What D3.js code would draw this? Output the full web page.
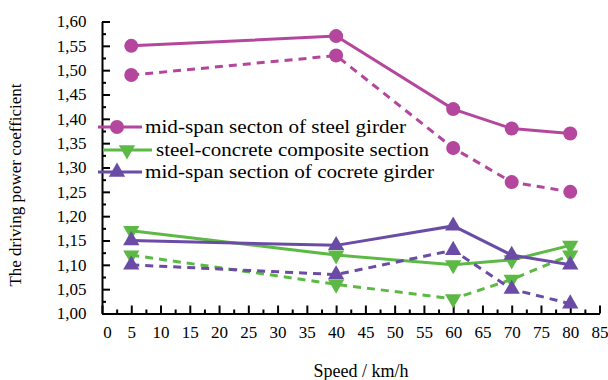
<!DOCTYPE html>
<html>
<head>
<meta charset="utf-8">
<script src="https://cdn.jsdelivr.net/npm/d3@7"></script>
<style>
  body { margin: 0; background: #fff; }
  svg text { font-family: "Liberation Serif", "Times New Roman", Times, "DejaVu Serif", serif; }
</style>
</head>
<body>
<script>
// data
var speeds = [5, 40, 60, 70, 80];
var steelSolid = [1.55, 1.57, 1.42, 1.38, 1.37];
var steelDash = [1.49, 1.53, 1.34, 1.27, 1.25];
var compSolid = [1.17, 1.12, 1.10, 1.11, 1.14];
var compDash = [1.12, 1.06, 1.03, 1.07, 1.12];
var concSolid = [1.15, 1.14, 1.18, 1.12, 1.10];
var concDash = [1.10, 1.08, 1.13, 1.05, 1.02];
var legendNames = ["mid-span secton of steel girder", "steel-concrete composite section", "mid-span section of cocrete girder"];
var xTicks = d3.range(0, 86, 5);
var yTicks = d3.range(1.00, 1.6001, 0.05);

var magenta = '#b4479d', green = '#5db946', purple = '#6a4ca7';

var svg = d3.select("body").append("svg")
    .attr("width", 608)
    .attr("height", 380);

var x = d3.scaleLinear().domain([0, 85]).range([102, 599.5]);
var y = d3.scaleLinear().domain([1.00, 1.60]).range([313.5, 21.5]);

// minor ticks
svg.append('g').attr('transform', 'translate(0,313.5)')
    .call(d3.axisBottom(x).tickValues(d3.range(2.5, 85, 5)).tickSize(-4).tickFormat(''))
    .call(function(g) { g.select('.domain').remove(); });
svg.append('g').attr('transform', 'translate(102,0)')
    .call(d3.axisLeft(y).tickValues(d3.range(1.025, 1.6, 0.05)).tickSize(-4).tickFormat(''))
    .call(function(g) { g.select('.domain').remove(); });

var xAxis = svg.append('g').attr('transform', 'translate(0,313.5)')
    .call(d3.axisBottom(x).tickValues(xTicks).tickSize(-8).tickSizeOuter(0).tickPadding(12.5)
        .tickFormat(d3.format('d')));
xAxis.selectAll('text').attr('font-size', 17)
    .attr('dx', function(d) { return d === 0 ? 5 : 0; });

var yAxis = svg.append('g').attr('transform', 'translate(102,0)')
    .call(d3.axisLeft(y).tickValues(yTicks).tickSize(-8).tickSizeOuter(0).tickPadding(15.5)
        .tickFormat(function(d) { return d.toFixed(2).replace('.', ','); }));
yAxis.selectAll('text').attr('font-size', 17);
svg.selectAll('.domain').attr('stroke-width', 2);
svg.selectAll('.tick line').attr('stroke-width', 2);

var line = d3.line()
    .x(function(d, i) { return x(speeds[i]); })
    .y(function(d) { return y(d); });

var series = [
    {vals: steelSolid, color: magenta, dash: null, mark: 'circle'},
    {vals: steelDash, color: magenta, dash: '8,6', mark: 'circle'},
    {vals: compSolid, color: green, dash: null, mark: 'down'},
    {vals: compDash, color: green, dash: '8,6', mark: 'down'},
    {vals: concSolid, color: purple, dash: null, mark: 'up'},
    {vals: concDash, color: purple, dash: '8,6', mark: 'up'}
];

var tri = d3.symbol().type(d3.symbolTriangle).size(115);

function drawMark(g, kind, color, cx, cy) {
    if (kind === 'circle') {
        g.append('circle').attr('cx', cx).attr('cy', cy).attr('r', 7).attr('fill', color);
    } else {
        g.append('path').attr('d', tri())
            .attr('transform', 'translate(' + cx + ',' + cy + ')' + (kind === 'down' ? ' rotate(180)' : ''))
            .attr('fill', color);
    }
}

series.forEach(function(s) {
    svg.append('path')
        .attr('d', line(s.vals))
        .attr('fill', 'none')
        .attr('stroke', s.color)
        .attr('stroke-width', 3)
        .attr('stroke-dasharray', s.dash);
    var g = svg.append('g');
    s.vals.forEach(function(v, i) { drawMark(g, s.mark, s.color, x(speeds[i]), y(v)); });
});

// legend (text in the original is stretched sideways)
var legRows = [
    {y: 127, x0: 98, x1: 142, mx: 117, tx: 145, len: 261, color: magenta, mark: 'circle'},
    {y: 150, x0: 103, x1: 152, mx: 127, tx: 156, len: 273, color: green, mark: 'down'},
    {y: 172, x0: 98, x1: 142, mx: 117, tx: 145, len: 289, color: purple, mark: 'up'}
];
legRows.forEach(function(r, i) {
    svg.append('line').attr('x1', r.x0).attr('x2', r.x1).attr('y1', r.y).attr('y2', r.y)
        .attr('stroke', r.color).attr('stroke-width', 3);
    drawMark(svg, r.mark, r.color, r.mx, r.y);
    svg.append('text').attr('x', r.tx).attr('y', r.y).attr('dy', '0.32em')
        .attr('font-size', 18)
        .attr('textLength', r.len)
        .attr('lengthAdjust', 'spacingAndGlyphs')
        .text(legendNames[i]);
});

svg.append('text')
    .attr('transform', 'translate(21,185) rotate(-90)')
    .attr('text-anchor', 'middle')
    .attr('font-size', 17)
    .text('The driving power coefficient');

svg.append('text')
    .attr('x', 361).attr('y', 377)
    .attr('text-anchor', 'middle')
    .attr('font-size', 18)
    .text('Speed / km/h');
</script>
</body>
</html>
